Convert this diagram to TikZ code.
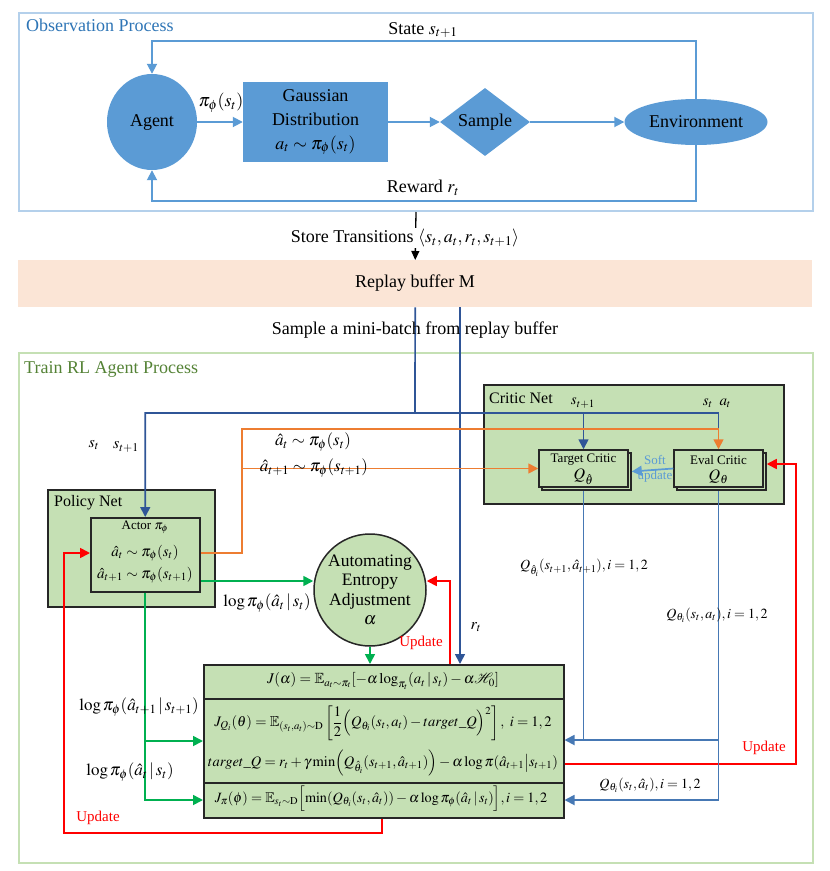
\documentclass[tikz,border=0pt]{standalone}
\usepackage{amsmath}
\usepackage{mathptmx}
\usepackage{amssymb}
\usepackage[no-math]{fontspec}
\setmainfont{Liberation Serif}
\usetikzlibrary{shapes.geometric,arrows.meta,calc}
\definecolor{obsb}{RGB}{180,208,235}
\definecolor{titleblue}{RGB}{46,117,182}
\definecolor{nodeblue}{RGB}{91,155,213}
\definecolor{peach}{RGB}{251,229,214}
\definecolor{trainb}{RGB}{197,224,180}
\definecolor{titlegreen}{RGB}{84,130,53}
\definecolor{boxgreen}{RGB}{197,224,180}
\definecolor{darkb}{RGB}{47,85,151}
\definecolor{steel}{RGB}{70,120,180}
\definecolor{orng}{RGB}{237,125,49}
\definecolor{grn}{RGB}{0,176,80}
\definecolor{edgec}{RGB}{38,38,38}
\newcommand{\fsz}[2]{\fontsize{#1}{#2}\selectfont}
\tikzset{
  tipA/.style={-{Triangle[length=10pt,width=10pt]}},
  obsline/.style={draw=nodeblue, line width=1.8pt},
  obsarrow/.style={obsline, tipA},
  darkline/.style={draw=darkb, line width=1.7pt},
  darkarrow/.style={darkline, tipA},
  steelline/.style={draw=steel, line width=1.8pt},
  steelarrow/.style={steelline, tipA},
  orline/.style={draw=orng, line width=1.7pt},
  orarrow/.style={orline, tipA},
  grarrow/.style={draw=grn, line width=1.7pt, tipA},
  redarrow/.style={draw=red, line width=1.7pt, tipA},
  softarrow/.style={draw=nodeblue, line width=1.7pt, tipA},
  blob/.style={fill=nodeblue, inner sep=0pt},
  gbox/.style={draw=edgec, fill=boxgreen, line width=1.5pt, inner sep=0pt},
  nw/.style={anchor=north west},
  lbl/.style={inner sep=0pt}
}
\begin{document}
\begin{tikzpicture}[x=1pt,y=-1pt, font=\fsz{18}{22}]
\useasboundingbox (0,0) rectangle (830,871);

% ---------- Observation process ----------
\node[draw=obsb, line width=2pt, minimum width=794pt, minimum height=198pt, nw, inner sep=0pt] (obs) at (18,12) {};
\node[anchor=west, text=titleblue, lbl] (obstitle) at (26,25) {Observation Process};

\node[blob, ellipse, minimum width=90pt, minimum height=96pt] (agent) at (152,122) {Agent};
\node[blob, minimum width=145pt, minimum height=80pt, align=center, font=\fsz{18}{24}] (gauss) at (315.5,122) {Gaussian\\Distribution\\$a_t \sim \pi_\phi(s_t)$};
\node[blob, diamond, aspect=1.32, minimum width=90pt, minimum height=68pt] (sample) at (485,122) {Sample};
\node[blob, ellipse, minimum width=143pt, minimum height=46pt] (env) at (696,122) {Environment};

\coordinate (stateY) at (0,41);
\coordinate (rewY) at (0,201);
\draw[obsarrow] (agent.east) -- (gauss.west);
\draw[obsarrow] (gauss.east) -- (sample.west);
\draw[obsarrow] (sample.east) -- (env.west);
\draw[obsarrow] (env.north) -- (env.north |- stateY) -- (agent.north |- stateY) -- (agent.north);
\draw[obsarrow] (env.south) -- (env.south |- rewY) -- (agent.south |- rewY) -- (agent.south);
\node[lbl] (pilbl) at (221,103) {$\pi_\phi(s_t)$};
\node[lbl] (statelbl) at (423,30) {State $s_{t+1}$};
\node[lbl] (rewlbl) at (423,188) {Reward $r_t$};

% ---------- Replay buffer ----------
\node[fill=peach, minimum width=794pt, minimum height=47pt, nw, inner sep=0pt] (buffer) at (18,260) {};
\node[lbl] (buflbl) at (415,283.5) {Replay buffer M};
\draw[line width=1.3pt, -{Triangle[length=9pt,width=8pt]}] (obs.south) -- (buffer.north);
\node[fill=white, inner sep=1pt] (storelbl) at (405,238) {Store Transitions $\langle s_t,a_t,r_t,s_{t+1}\rangle$};

% ---------- Train process frame ----------
\node[draw=trainb, line width=2pt, minimum width=794pt, minimum height=510pt, nw, inner sep=0pt] (train) at (18,352) {};
\node[anchor=west, text=titlegreen, lbl] (traintitle) at (24,369) {Train RL Agent Process};

% Critic net
\node[gbox, minimum width=300pt, minimum height=119pt, nw] (critic) at (483,384) {};
\node[anchor=west, lbl, font=\fsz{16}{18}] (criticlbl) at (489,398) {Critic Net};
\node[gbox, minimum width=89pt, minimum height=37pt] (tcs) at (586.5,471.5) {};
\node[gbox, minimum width=89pt, minimum height=37pt] (tc) at (583.5,468.5) {};
\node[gbox, minimum width=89pt, minimum height=37pt] (ecs) at (721.5,471.5) {};
\node[gbox, minimum width=89pt, minimum height=37pt] (ec) at (718.5,468.5) {};
\node[lbl, font=\fsz{13}{15}] (tct) at (583.5,460) {Target Critic};
\node[lbl, font=\fsz{16}{18}] (tcq) at (583.5,477) {$Q_{\hat{\theta}}$};
\node[lbl, font=\fsz{13}{15}] (ect) at (718.5,460) {Eval Critic};
\node[lbl, font=\fsz{16}{18}] (ecq) at (718.5,477) {$Q_{\theta}$};
\node[lbl, font=\fsz{15}{17}] (cst1) at (583,403) {$s_{t+1}$};
\node[lbl, font=\fsz{15}{17}] (cstat) at (717,403) {$s_t\;\; a_t$};
\draw[softarrow] (ec.west) -- (tcs.east);
\node[lbl, text=nodeblue, font=\fsz{13}{15}] (soft1) at (655,460) {Soft};
\node[lbl, text=nodeblue, font=\fsz{13}{15}] (soft2) at (655,476) {update};

% Policy net
\node[gbox, minimum width=167pt, minimum height=117pt, nw] (policy) at (47,489) {};
\node[anchor=west, lbl, font=\fsz{16}{18}] (policylbl) at (54,503) {Policy Net};
\node[gbox, fill=boxgreen, minimum width=109pt, minimum height=74pt, nw] (actor) at (90,517) {};
\node[lbl, font=\fsz{13}{15}] (actorlbl) at (145,527) {Actor $\pi_\phi$};
\node[lbl, font=\fsz{15}{17}] (act1) at (145,553) {$\hat{a}_t\sim\pi_\phi(s_t)$};
\node[lbl, font=\fsz{15}{17}] (act2) at (145,575) {$\hat{a}_{t+1}\sim\pi_\phi(s_{t+1})$};
\coordinate (arow1) at (145,553);
\coordinate (arow2) at (145,581);

% Entropy circle
\node[gbox, circle, minimum size=112pt, align=center, font=\fsz{17.5}{19.5}] (ent) at (370,590) {Automating\\Entropy\\Adjustment\\$\alpha$};

% Formula boxes
\node[gbox, minimum width=360pt, minimum height=34pt, nw] (f1) at (203,664) {};
\node[gbox, minimum width=360pt, minimum height=84pt, nw] (f2) at (203,698) {};
\node[gbox, minimum width=360pt, minimum height=35pt, nw] (f3) at (203,782) {};
\node[lbl, font=\fsz{14.8}{17}] (f1t) at (383,681) {$J(\alpha)=\mathbb{E}_{a_t\sim\pi_t}[-\alpha\log_{\pi_t}(a_t\,|\,s_t)-\alpha\mathcal{H}_0]$};
\node[lbl, font=\fsz{14.5}{17}] (f2t) at (383,723) {$J_{Q_i}(\theta)=\mathbb{E}_{(s_t,a_t)\sim\mathrm{D}}\left[\dfrac{1}{2}\Bigl(Q_{\theta_i}(s_t,a_t)-target\_Q\Bigr)^2\right],\ i=1,2$};
\node[lbl, font=\fsz{14.5}{17}] (f2u) at (383,763) {$target\_Q=r_t+\gamma\min\Bigl(Q_{\hat{\theta}_i}(s_{t+1},\hat{a}_{t+1})\Bigr)-\alpha\log\pi(\hat{a}_{t+1}\bigl|s_{t+1})$};
\node[lbl, font=\fsz{14.2}{17}] (f3t) at (381,799) {$J_\pi(\phi)=\mathbb{E}_{s_t\sim\mathrm{D}}\Bigl[\min(Q_{\theta_i}(s_t,\hat{a}_t))-\alpha\log\pi_\phi(\hat{a}_t\,|\,s_t)\Bigr],i=1,2$};

% ---------- Connectors in train process ----------
\coordinate (hline) at (415,413);
\coordinate (oline) at (242,429);
\coordinate (b2) at (460,307);
\draw[darkarrow] (buffer.south) -- (hline) -- (actor.north |- hline) -- (actor.north);
\draw[darkline] (hline) -- (ec.north |- hline) -- (ec.north |- oline);
\draw[darkarrow] (tc.north |- hline) -- (tc.north);
\draw[darkarrow] (b2) -- (b2 |- f1.north);
\node[lbl] (samplelbl) at (415,330) {Sample a mini-batch from replay buffer};
\node[lbl, font=\fsz{16}{18}] (stlbl) at (94,445) {$s_t$};
\node[lbl, font=\fsz{16}{18}] (st1lbl) at (126,447) {$s_{t+1}$};
\node[lbl, font=\fsz{16}{18}] (rtlbl) at (476,627) {$r_t$};

% orange
\draw[orarrow] (actor.east |- arow1) -| (oline) -- (ec.north |- oline) -- (ec.north);
\draw[orarrow] (oline |- tc.west) -- (tc.west);
\node[lbl, font=\fsz{17}{19}] (oalbl1) at (313,442) {$\hat{a}_t\sim\pi_\phi(s_t)$};
\node[lbl, font=\fsz{17}{19}] (oalbl2) at (314,468) {$\hat{a}_{t+1}\sim\pi_\phi(s_{t+1})$};

% green
\coordinate (g1) at (0,741);
\coordinate (g2) at (0,800);
\draw[grarrow] (actor.east |- arow2) -- (ent.west |- arow2);
\draw[grarrow] (actor.south) -- (actor.south |- g1) -- (f2.west |- g1);
\draw[grarrow] (actor.south |- g1) -- (actor.south |- g2) -- (f3.west |- g2);
\draw[grarrow] (ent.south) -- (f1.north -| ent.south);
\node[lbl, font=\fsz{17}{19}] (glbl1) at (267,603) {$\log\pi_\phi(\hat{a}_t\,|\,s_t)$};
\node[lbl, font=\fsz{17}{19}] (glbl2) at (139,707) {$\log\pi_\phi(\hat{a}_{t+1}\,|\,s_{t+1})$};
\node[lbl, font=\fsz{17}{19}] (glbl3) at (130,772) {$\log\pi_\phi(\hat{a}_t\,|\,s_t)$};

% red
\coordinate (ru) at (450,581);
\coordinate (rb) at (382,833);
\coordinate (rl) at (64,833);
\coordinate (rr) at (796,764);
\coordinate (recy) at (0,464);
\draw[redarrow] (f1.north -| ru) -- (ru) -- (ent.east |- ru);
\draw[redarrow] (f3.south -| rb) -- (rb) -- (rl) -- (rl |- arow1) -- (actor.west |- arow1);
\draw[redarrow] (f2.east |- rr) -- (rr) -- (rr |- recy) -- (ecs.east |- recy);
\node[lbl, text=red, font=\fsz{15}{17}] (up1) at (421,643) {Update};
\node[lbl, text=red, font=\fsz{15}{17}] (up2) at (98,818) {Update};
\node[lbl, text=red, font=\fsz{15}{17}] (up3) at (764,748) {Update};

% steel blue Q outputs
\coordinate (q1) at (0,740);
\coordinate (q2) at (0,800);
\draw[steelarrow] (tcs.south -| tc.south) -- (tc.south |- q1) -- (f2.east |- q1);
\draw[steelline] (ec.south |- q1) -- (tc.south |- q1);
\draw[steelarrow] (ecs.south -| ec.south) -- (ec.south |- q2) -- (f3.east |- q2);
\node[lbl, font=\fsz{14}{16}] (qlbl1) at (584,568) {$Q_{\hat{\theta}_i}(s_{t+1},\hat{a}_{t+1}),i=1,2$};
\node[lbl, font=\fsz{14}{16}] (qlbl2) at (717,615) {$Q_{\theta_i}(s_t,a_t),i=1,2$};
\node[lbl, font=\fsz{14}{16}] (qlbl3) at (650,785) {$Q_{\theta_i}(s_t,\hat{a}_t),i=1,2$};
\end{tikzpicture}
\end{document}
